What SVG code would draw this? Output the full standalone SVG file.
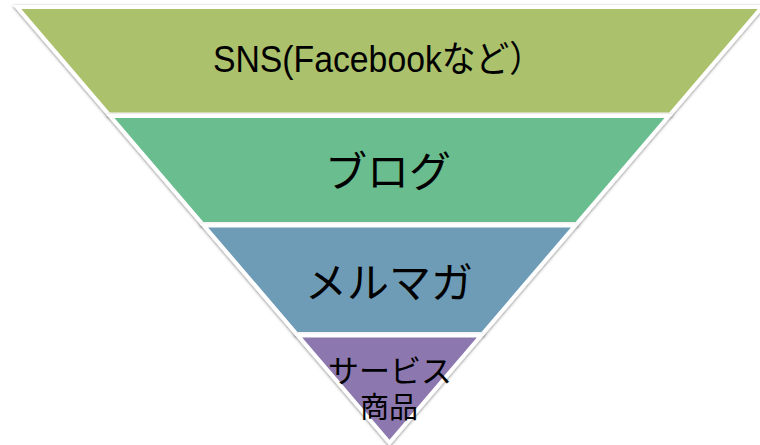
<svg xmlns="http://www.w3.org/2000/svg" width="760" height="445" viewBox="0 0 760 445">
<defs>
<filter id="sh" x="-5%" y="-5%" width="110%" height="115%">
<feDropShadow dx="0" dy="1" stdDeviation="1.5" flood-color="#000" flood-opacity="0.5"/>
</filter>
<style>
.band{stroke:#fff;stroke-width:4;stroke-linejoin:miter;filter:url(#sh)}
.lbl{font-family:"Noto Sans CJK JP","Liberation Sans",sans-serif;fill:#000;text-anchor:middle;dominant-baseline:central}
.sm{font-family:"Liberation Sans","Noto Sans CJK JP",sans-serif;fill:#000;text-anchor:middle}
</style>
</defs>
<rect width="760" height="445" fill="#fff"/>
<g id="sns">
<polygon class="band" fill="#ABC16C" points="17,7 762,7 670.1,114.5 108.9,114.5"/>
<text x="378" y="72" font-family="Liberation Sans, Noto Sans CJK JP, sans-serif" font-size="36" textLength="330" lengthAdjust="spacingAndGlyphs" text-anchor="middle">SNS(Facebookなど）</text>
</g>
<g id="blog">
<polygon class="band" fill="#6BBD8F" points="110.2,116 668.8,116 576.5,224 202.5,224"/>
<text class="lbl" x="388" y="168" font-size="42">ブログ</text>
</g>
<g id="mailmag">
<polygon class="band" fill="#6E9CB6" points="203.8,225.5 575.2,225.5 482.4,334 296.6,334"/>
<text class="lbl" x="389" y="279" font-size="42">メルマガ</text>
</g>
<g id="service">
<polygon class="band" fill="#8C77AE" points="297.9,335.5 481.1,335.5 389.5,442.7"/>
<text class="sm" x="390" y="382" font-size="31">サービス</text>
<text class="sm" x="389" y="418" font-size="29">商品</text>
</g>
<g id="connectors"/>
</svg>
